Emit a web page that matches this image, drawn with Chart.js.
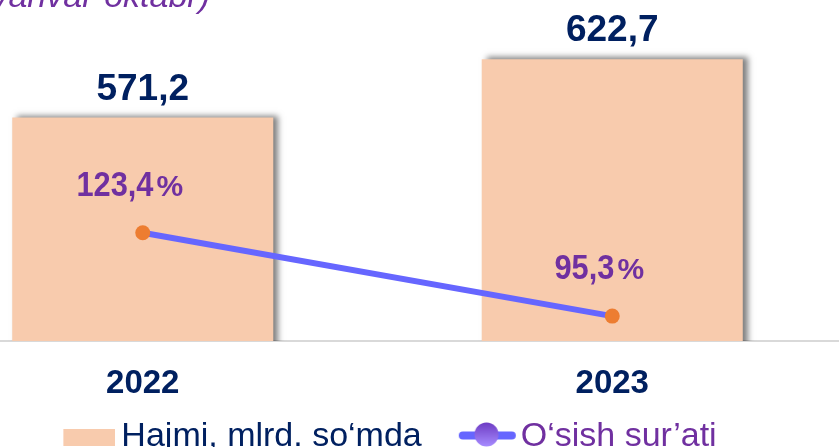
<!DOCTYPE html>
<html><head><meta charset="utf-8">
<script src="https://cdn.jsdelivr.net/npm/chart.js@4/dist/chart.umd.min.js"></script>
<style>
html,body{margin:0;padding:0;width:839px;height:447px;overflow:hidden;background:#fff;position:relative}
#wrap{position:absolute;left:-92px;top:0;width:939px;height:464px}
</style>
</head><body><div id="wrap"><canvas id="c" width="939" height="464"></canvas></div>
<script>
const categories = ['2022', '2023'];
const volumeValues = [571.2, 622.7];
const growthValues = [123.4, 95.3];
const seriesNames = ['Hajmi, mlrd. so‘mda', 'O‘sish sur’ati'];
const periodNote = '(yanvar-oktabr)';

const FF = "'Liberation Sans', Arial, sans-serif";
const BAR_COLOR = '#F8CBAD';
const NAVY = '#002060';
const PURPLE = '#7030A0';
const LINE_COLOR = '#6666FF';
const POINT_COLOR = '#ED7D31';

const fmt = v => v.toFixed(1).replace('.', ',');

function makeBoxIcon() {
  const c = document.createElement('canvas');
  c.width = 88; c.height = 17;
  const x = c.getContext('2d');
  x.fillStyle = BAR_COLOR;
  x.fillRect(36, 0, 52, 17);
  return c;
}
function makeLineIcon() {
  const c = document.createElement('canvas');
  c.width = 92; c.height = 30;
  const x = c.getContext('2d');
  x.strokeStyle = LINE_COLOR; x.lineWidth = 8; x.lineCap = 'round';
  x.beginPath(); x.moveTo(38, 13.5); x.lineTo(87, 13.5); x.stroke();
  const g = x.createLinearGradient(0, 0.5, 0, 24.5);
  g.addColorStop(0, '#6E3CC4'); g.addColorStop(1, '#A78CFF');
  x.fillStyle = g;
  x.beginPath(); x.arc(61.7, 12.5, 12, 0, Math.PI * 2); x.fill();
  return c;
}

const barShadow = {
  id: 'barShadow',
  beforeDatasetDraw(chart, args) {
    if (args.meta.type === 'bar') {
      const c = chart.ctx; c.save();
      c.shadowColor = 'rgba(0,0,0,0.5)'; c.shadowBlur = 6;
      c.shadowOffsetX = 5; c.shadowOffsetY = -2;
    }
  },
  afterDatasetDraw(chart, args) {
    if (args.meta.type === 'bar') chart.ctx.restore();
  }
};

const labelsPlugin = {
  id: 'labelsPlugin',
  afterDatasetsDraw(chart) {
    const ctx = chart.ctx;
    const barMeta = chart.getDatasetMeta(0);
    const lineMeta = chart.getDatasetMeta(1);
    ctx.save();
    ctx.textBaseline = 'alphabetic';
    ctx.textAlign = 'center';
    ctx.fillStyle = NAVY;
    ctx.font = 'bold 37px ' + FF;
    barMeta.data.forEach((el, i) => ctx.fillText(fmt(volumeValues[i]), el.x, el.y - 18));
    ctx.fillStyle = PURPLE;
    lineMeta.data.forEach((el, i) => {
      const num = fmt(growthValues[i]);
      const sx = 0.88;
      ctx.font = 'bold 35px ' + FF;
      const wn = ctx.measureText(num).width * sx;
      ctx.font = 'bold 30px ' + FF;
      const wp = ctx.measureText('%').width;
      const gap = 3;
      const total = wn + gap + wp;
      const x0 = el.x - 13 - total / 2;
      const y = el.y - 37;
      ctx.save();
      ctx.translate(x0, y); ctx.scale(sx, 1);
      ctx.font = 'bold 35px ' + FF; ctx.textAlign = 'left';
      ctx.fillText(num, 0, 0);
      ctx.restore();
      ctx.font = 'bold 30px ' + FF; ctx.textAlign = 'left';
      ctx.fillText('%', x0 + wn + gap, y);
    });
    ctx.font = 'italic 34px ' + FF;
    ctx.textAlign = 'right';
    ctx.fillText(periodNote, 302, 6.5);
    ctx.restore();
  }
};

Chart.defaults.font.family = FF;

new Chart(document.getElementById('c'), {
  data: {
    labels: categories,
    datasets: [
      {
        type: 'bar', label: seriesNames[0], data: volumeValues,
        backgroundColor: BAR_COLOR, borderWidth: 0,
        barPercentage: 0.556, categoryPercentage: 1, yAxisID: 'y', order: 2
      },
      {
        type: 'line', label: seriesNames[1], data: growthValues,
        borderColor: LINE_COLOR, borderWidth: 6, tension: 0,
        pointRadius: 7.5, pointBackgroundColor: POINT_COLOR, pointBorderColor: POINT_COLOR,
        pointBorderWidth: 0, yAxisID: 'y2', order: 1, clip: false
      }
    ]
  },
  options: {
    responsive: false,
    animation: false,
    layout: { padding: 0, autoPadding: false },
    scales: {
      x: {
        type: 'category', offset: true,
        grid: { display: false, drawTicks: false },
        border: { display: true, color: '#D9D9D9', width: 2 },
        ticks: { color: NAVY, font: { size: 33, weight: 'bold' }, padding: 23, maxRotation: 0 },
        afterFit(s) { s.height = 63; }
      },
      y: { display: false, min: 374, max: 675 },
      y2: { display: false, min: 86.9, max: 201.9, position: 'right' }
    },
    plugins: {
      tooltip: { enabled: false },
      legend: {
        position: 'bottom',
        labels: {
          usePointStyle: true,
          pointStyleWidth: 66,
          padding: 16,
          font: { size: 34 },
          generateLabels(chart) {
            const ds = chart.data.datasets;
            return [
              { text: ds[0].label, pointStyle: makeBoxIcon(), fillStyle: BAR_COLOR, strokeStyle: 'rgba(0,0,0,0)', lineWidth: 0, fontColor: NAVY, hidden: false, datasetIndex: 0 },
              { text: ds[1].label, pointStyle: makeLineIcon(), fillStyle: LINE_COLOR, strokeStyle: 'rgba(0,0,0,0)', lineWidth: 0, fontColor: PURPLE, hidden: false, datasetIndex: 1 }
            ];
          }
        }
      }
    }
  },
  plugins: [barShadow, labelsPlugin]
});
</script>
</body></html>
